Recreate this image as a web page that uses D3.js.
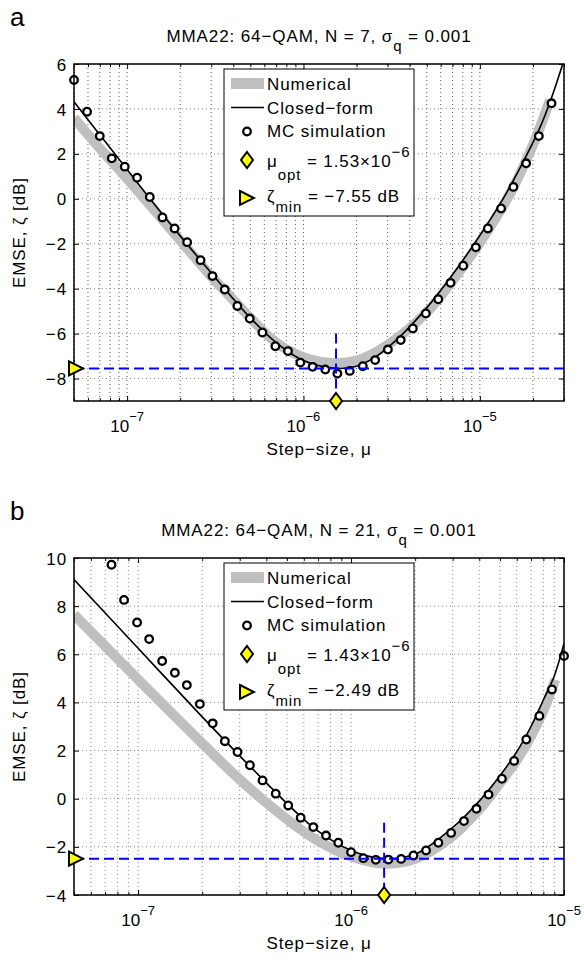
<!DOCTYPE html>
<html>
<head>
<meta charset="utf-8">
<script src="https://cdn.jsdelivr.net/npm/d3@7"></script>
<style>
  body { margin: 0; background: #fff; }
  text { font-family: 'Liberation Sans', Arial, Helvetica, sans-serif; white-space: pre; }
</style>
</head>
<body>
<div id="chart"></div>
<script>
// ---- panel a : N = 7 ----
const mcMuA = [5.0e-8, 5.93e-8, 7.0e-8, 8.19e-8, 9.7e-8, 1.14e-7, 1.345e-7, 1.587e-7, 1.86e-7, 2.19e-7,
  2.61e-7, 3.05e-7, 3.58e-7, 4.22e-7, 4.96e-7, 5.85e-7, 6.93e-7, 8.17e-7, 9.6e-7, 1.127e-6,
  1.33e-6, 1.556e-6, 1.83e-6, 2.17e-6, 2.55e-6, 3.01e-6, 3.56e-6, 4.17e-6, 4.94e-6, 5.81e-6,
  6.82e-6, 8.05e-6, 9.49e-6, 1.11e-5, 1.32e-5, 1.55e-5, 1.83e-5, 2.16e-5, 2.55e-5];
const mcDbA = [5.29, 3.88, 2.79, 1.80, 1.43, 0.94, 0.08, -0.83, -1.32, -1.93,
  -2.73, -3.44, -4.04, -4.77, -5.33, -5.95, -6.56, -6.78, -7.29, -7.48,
  -7.60, -7.78, -7.66, -7.45, -7.18, -6.71, -6.29, -5.77, -5.10, -4.47,
  -3.74, -2.98, -2.16, -1.32, -0.43, 0.53, 1.58, 2.79, 4.25];
const closedMuA = [5e-8, 7e-8, 1e-7, 1.5e-7, 2e-7, 3e-7, 5e-7, 7e-7, 1e-6, 1.53e-6,
  2e-6, 2.55e-6, 3.56e-6, 4.94e-6, 6.82e-6, 9.49e-6, 1.32e-5, 1.83e-5, 2.2e-5, 2.55e-5, 2.96e-5];
const closedDbA = [4.32, 2.85, 1.3, -0.45, -1.65, -3.3, -5.3, -6.4, -7.2, -7.55,
  -7.45, -7.05, -6.1, -4.9, -3.5, -1.9, -0.15, 1.9, 3.2, 4.5, 6.03];
const numMuA = [5e-8, 7e-8, 1e-7, 1.5e-7, 2e-7, 3e-7, 4e-7, 5e-7, 7e-7, 1e-6,
  1.4e-6, 2e-6, 3e-6, 5e-6, 7e-6, 1e-5, 1.5e-5, 2e-5, 2.5e-5];
const numDbA = [3.6, 2.25, 0.9, -0.7, -1.85, -3.45, -4.5, -5.3, -6.4, -7.05,
  -7.3, -7.2, -6.5, -5.05, -3.65, -1.95, 0.3, 2.4, 4.4];
const muOptA = 1.53e-6, zetaMinA = -7.55, vDashTopA = -6;
const yTicksA = [-8, -6, -4, -2, 0, 2, 4, 6];

// ---- panel b : N = 21 ----
const mcMuB = [7.5e-8, 8.59e-8, 9.89e-8, 1.127e-7, 1.297e-7, 1.488e-7, 1.694e-7, 1.95e-7, 2.24e-7, 2.556e-7,
  2.93e-7, 3.35e-7, 3.84e-7, 4.43e-7, 5.07e-7, 5.8e-7, 6.65e-7, 7.63e-7, 8.71e-7, 1.0e-6,
  1.142e-6, 1.307e-6, 1.497e-6, 1.718e-6, 1.963e-6, 2.25e-6, 2.57e-6, 2.95e-6, 3.39e-6, 3.88e-6,
  4.42e-6, 5.11e-6, 5.83e-6, 6.65e-6, 7.66e-6, 8.78e-6, 1.0e-5];
const mcDbB = [9.72, 8.26, 7.32, 6.63, 5.72, 5.23, 4.72, 3.93, 3.13, 2.39,
  1.94, 1.39, 0.76, 0.21, -0.28, -0.79, -1.18, -1.53, -1.83, -2.22,
  -2.47, -2.54, -2.53, -2.50, -2.36, -2.15, -1.83, -1.42, -0.93, -0.42,
  0.17, 0.83, 1.57, 2.46, 3.44, 4.54, 5.93];
const closedMuB = [5e-8, 1e-7, 2e-7, 3e-7, 4e-7, 5e-7, 7e-7, 1e-6, 1.43e-6,
  2e-6, 3e-6, 4e-6, 5e-6, 6e-6, 7e-6, 8e-6, 9e-6, 1e-5];
const closedDbB = [9.1, 6.25, 3.4, 1.78, 0.66, -0.2, -1.35, -2.15, -2.49,
  -2.3, -1.2, -0.1, 0.95, 1.95, 3.0, 4.1, 5.1, 6.45];
const numMuB = [5e-8, 1e-7, 2e-7, 3e-7, 5e-7, 7e-7, 1e-6, 1.45e-6, 2e-6,
  3e-6, 4e-6, 5e-6, 6e-6, 7e-6, 8e-6, 9.1e-6];
const numDbB = [7.65, 4.95, 2.3, 0.8, -0.85, -1.75, -2.4, -2.7, -2.5,
  -1.55, -0.45, 0.65, 1.6, 2.6, 3.65, 4.95];
const muOptB = 1.43e-6, zetaMinB = -2.49, vDashTopB = -1;
const yTicksB = [-4, -2, 0, 2, 4, 6, 8, 10];

const xTickExps = [-7, -6, -5];

const W = 584, H = 964;
const svg = d3.select("#chart").append("svg").attr("width", W).attr("height", H);

const diamond = "M0,-8L6,0L0,8L-6,0Z";
const triangle = "M-5,-7L9,0L-5,7Z";
const LS = "0.9px";

function drawPanel(p) {
  const L = 74, R = 564, T = 64, B = 401;
  const g = svg.append("g").attr("transform", `translate(0,${p.oy})`);
  const x = d3.scaleLog().domain(p.xDomain).range([L, R]);
  const y = d3.scaleLinear().domain(p.yDomain).range([B, T]);
  const allX = x.ticks();
  const majorX = allX.filter(v => Math.abs(Math.log10(v) - Math.round(Math.log10(v))) < 1e-6);
  const minorX = allX.filter(v => !majorX.includes(v));

  // panel letter + title
  g.append("text").attr("x", 10).attr("y", 26).attr("font-size", 26).text(p.letter);
  const title = g.append("text").attr("x", (L + R) / 2).attr("y", 42)
    .attr("text-anchor", "middle").attr("font-size", 17).attr("letter-spacing", LS);
  title.append("tspan").text(`MMA22: 64−QAM, N = ${p.N}, σ`);
  title.append("tspan").attr("dy", 9).attr("font-size", 15).text("q");
  title.append("tspan").attr("dy", -9).text(" = 0.001");

  // grid
  const grid = g.append("g").attr("stroke-dasharray", "1,3").attr("stroke-width", 1);
  grid.selectAll(".gx").data(allX).enter().append("line")
    .attr("x1", d => x(d)).attr("x2", d => x(d)).attr("y1", T).attr("y2", B)
    .attr("stroke", p.gridX);
  grid.selectAll(".gy").data(p.yTicks).enter().append("line")
    .attr("x1", L).attr("x2", R).attr("y1", d => y(d)).attr("y2", d => y(d))
    .attr("stroke", "#8c8c8c");

  // clip
  const clipId = "clip" + p.letter;
  g.append("clipPath").attr("id", clipId).append("rect")
    .attr("x", L).attr("y", T).attr("width", R - L).attr("height", B - T);
  const plot = g.append("g").attr("clip-path", `url(#${clipId})`);

  const line = d3.line().x(d => x(d[0])).y(d => y(d[1])).curve(d3.curveCatmullRom.alpha(0.5));
  plot.append("path").datum(d3.zip(p.numMu, p.numDb))
    .attr("fill", "none").attr("stroke", "#bfbfbf").attr("stroke-width", 10).attr("d", line);
  plot.append("path").datum(d3.zip(p.closedMu, p.closedDb))
    .attr("fill", "none").attr("stroke", "#000").attr("stroke-width", 1.6).attr("d", line);

  // MC markers (not clipped, like MATLAB markers on the box edge)
  g.append("g").selectAll("circle").data(d3.zip(p.mcMu, p.mcDb)).enter().append("circle")
    .attr("cx", d => x(d[0])).attr("cy", d => y(d[1])).attr("r", 3.8)
    .attr("fill", "#fff").attr("stroke", "#000").attr("stroke-width", 2.3);

  // optimum dashed guides
  g.append("line").attr("x1", L).attr("x2", R)
    .attr("y1", y(p.zetaMin)).attr("y2", y(p.zetaMin))
    .attr("stroke", "#0000ff").attr("stroke-width", 2).attr("stroke-dasharray", "10,5");
  g.append("line").attr("x1", x(p.muOpt)).attr("x2", x(p.muOpt))
    .attr("y1", y(p.vDashTop)).attr("y2", B)
    .attr("stroke", "#0000ff").attr("stroke-width", 2).attr("stroke-dasharray", "10,5");

  // axes ticks (inward, mirrored like a boxed plot)
  const axes = g.append("g");
  axes.append("g").attr("transform", `translate(0,${B})`)
    .call(d3.axisBottom(x).tickValues(minorX).tickSize(-3).tickFormat(""));
  axes.append("g").attr("transform", `translate(0,${B})`)
    .call(d3.axisBottom(x).tickValues(majorX).tickSize(-5).tickFormat(""));
  axes.append("g").attr("transform", `translate(0,${T})`)
    .call(d3.axisTop(x).tickValues(minorX).tickSize(-3).tickFormat(""));
  axes.append("g").attr("transform", `translate(0,${T})`)
    .call(d3.axisTop(x).tickValues(majorX).tickSize(-5).tickFormat(""));
  const yAxis = axes.append("g").attr("transform", `translate(${L},0)`)
    .call(d3.axisLeft(y).tickValues(p.yTicks).tickSize(-5).tickPadding(7)
      .tickFormat(d => d < 0 ? "−" + Math.abs(d) : String(d)));
  axes.append("g").attr("transform", `translate(${R},0)`)
    .call(d3.axisRight(y).tickValues(p.yTicks).tickSize(-5).tickFormat(""));
  axes.selectAll(".domain").remove();
  axes.selectAll(".tick line").attr("stroke", "#000").attr("stroke-width", 1);
  yAxis.selectAll("text").attr("font-size", 17).attr("letter-spacing", LS)
    .attr("font-family", "'Liberation Sans', Arial, Helvetica, sans-serif")
    .attr("fill", "#000").attr("dy", "0.36em");

  g.append("rect").attr("x", L).attr("y", T).attr("width", R - L).attr("height", B - T)
    .attr("fill", "none").attr("stroke", "#000").attr("stroke-width", 1.5);

  // x tick labels 10^k
  p.xExps.forEach(e => {
    const t = g.append("text").attr("x", x(Math.pow(10, e))).attr("y", 432)
      .attr("text-anchor", "middle").attr("font-size", 17);
    t.append("tspan").text("10");
    t.append("tspan").attr("dy", -11).attr("font-size", 13).text("−" + Math.abs(e));
  });

  // markers on the axes
  g.append("path").attr("d", diamond).attr("transform", `translate(${x(p.muOpt)},${B})`)
    .attr("fill", "#ffff00").attr("stroke", "#000").attr("stroke-width", 2);
  g.append("path").attr("d", triangle).attr("transform", `translate(${L},${y(p.zetaMin)})`)
    .attr("fill", "#ffff00").attr("stroke", "#000").attr("stroke-width", 2);

  // axis labels
  g.append("text").attr("x", (L + R) / 2).attr("y", 455).attr("text-anchor", "middle")
    .attr("font-size", 17).attr("letter-spacing", LS).text("Step−size, μ");
  g.append("text").attr("transform", `translate(25,${(T + B) / 2}) rotate(-90)`)
    .attr("text-anchor", "middle").attr("font-size", 17).attr("letter-spacing", LS)
    .text("EMSE, ζ [dB]");

  // legend
  const lg = g.append("g");
  lg.append("rect").attr("x", 224).attr("y", 69).attr("width", 190).attr("height", 147)
    .attr("fill", "#fff").attr("stroke", "#000").attr("stroke-width", 1);
  const sx = 247, tx = 267;
  lg.append("line").attr("x1", 231).attr("x2", 264).attr("y1", 83.5).attr("y2", 83.5)
    .attr("stroke", "#bfbfbf").attr("stroke-width", 11);
  lg.append("line").attr("x1", 231).attr("x2", 264).attr("y1", 107.5).attr("y2", 107.5)
    .attr("stroke", "#000").attr("stroke-width", 1.6);
  lg.append("circle").attr("cx", sx).attr("cy", 131.5).attr("r", 3.8)
    .attr("fill", "#fff").attr("stroke", "#000").attr("stroke-width", 2.3);
  lg.append("path").attr("d", diamond).attr("transform", `translate(${sx},160)`)
    .attr("fill", "#ffff00").attr("stroke", "#000").attr("stroke-width", 2);
  lg.append("path").attr("d", triangle).attr("transform", `translate(${sx - 2},198)`)
    .attr("fill", "#ffff00").attr("stroke", "#000").attr("stroke-width", 2);

  const lt = (yy) => lg.append("text").attr("x", tx).attr("y", yy)
    .attr("font-size", 17).attr("letter-spacing", LS);
  lt(90).text("Numerical");
  lt(114).text("Closed−form");
  lt(137).text("MC simulation");
  const t1 = lt(167);
  t1.append("tspan").text("μ");
  t1.append("tspan").attr("dy", 13).attr("font-size", 15).text("opt");
  t1.append("tspan").attr("dy", -13).text(` = ${p.muOptLabel}×10`);
  t1.append("tspan").attr("dy", -10).attr("font-size", 15).text("−6");
  const t2 = lt(202);
  t2.append("tspan").text("ζ");
  t2.append("tspan").attr("dy", 10).attr("font-size", 15).text("min");
  t2.append("tspan").attr("dy", -10).text(` = ${p.zetaLabel} dB`);
}

drawPanel({
  letter: "a", oy: 0, N: 7, xDomain: [5e-8, 3e-5], yDomain: [-9, 6], yTicks: yTicksA,
  xExps: xTickExps, gridX: "#5a5a5a",
  mcMu: mcMuA, mcDb: mcDbA, closedMu: closedMuA, closedDb: closedDbA, numMu: numMuA, numDb: numDbA,
  muOpt: muOptA, zetaMin: zetaMinA, vDashTop: vDashTopA, muOptLabel: "1.53", zetaLabel: "−7.55"
});
drawPanel({
  letter: "b", oy: 494, N: 21, xDomain: [5e-8, 1e-5], yDomain: [-4, 10], yTicks: yTicksB,
  xExps: xTickExps, gridX: "#8c8c8c",
  mcMu: mcMuB, mcDb: mcDbB, closedMu: closedMuB, closedDb: closedDbB, numMu: numMuB, numDb: numDbB,
  muOpt: muOptB, zetaMin: zetaMinB, vDashTop: vDashTopB, muOptLabel: "1.43", zetaLabel: "−2.49"
});
</script>
</body>
</html>
